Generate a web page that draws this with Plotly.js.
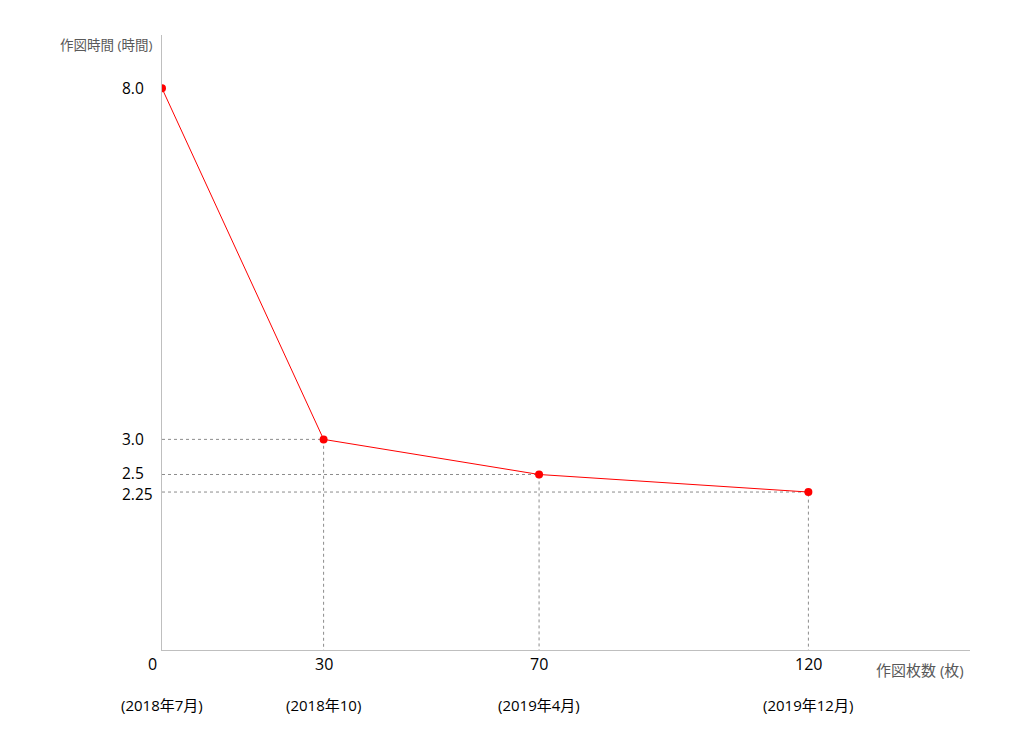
<!DOCTYPE html>
<html><head><meta charset="utf-8">
<script src="https://cdn.plot.ly/plotly-3.0.1.min.js"></script>
<style>html,body{margin:0;padding:0;background:#fff}#c{width:1024px;height:739px}</style>
</head><body><div id="c"></div>
<script>
const sheets = [0, 30, 70, 120];
const hours = [8.0, 3.0, 2.5, 2.25];
const xTickText = ["0", "30", "70", "120"];
const yTickText = ["8.0", "3.0", "2.5", "2.25"];
const dateLabels = ["(2018年7月)", "(2018年10)", "(2019年4月)", "(2019年12月)"];
const xTitle = "作図枚数 (枚)";
const yTitle = "作図時間 (時間)";

const FONT = "Open Sans, Noto Sans CJK JP, sans-serif";
const L = 162, R = 54, T = 35, B = 89, W = 1024, H = 739;
const plotW = W - L - R, plotH = H - T - B;

const traces = [];
for (let i = 1; i < sheets.length; i++) {
  traces.push({x: [0, sheets[i], sheets[i]], y: [hours[i], hours[i], 0], mode: 'lines',
    line: {color: '#8c8c8c', width: 1, dash: 'dot'}, hoverinfo: 'skip', showlegend: false});
}
traces.push({x: sheets, y: hours, mode: 'lines+markers',
  line: {color: '#ff0000', width: 1}, marker: {color: '#ff0000', size: 8}, showlegend: false});

const layout = {
  width: W, height: H,
  margin: {l: L, r: R, t: T, b: B},
  paper_bgcolor: '#fff', plot_bgcolor: '#fff',
  font: {family: FONT, size: 15, color: '#000'},
  xaxis: {range: [0, 150], showticklabels: false, showgrid: false, zeroline: false,
    showline: true, linecolor: '#bfbfbf', linewidth: 1, ticks: ''},
  yaxis: {range: [0, 8.76], showticklabels: false, showgrid: false, zeroline: false,
    showline: true, linecolor: '#bfbfbf', linewidth: 1, ticks: ''},
  annotations: []
};
// y tick labels (left aligned, as in reference); nudge the two close labels apart slightly
const yShift = [0, 0, 1.5, -1.5];
hours.forEach((v, i) => {
  layout.annotations.push({x: -(L - 121) / plotW, xref: 'paper', xanchor: 'left', y: v, yref: 'y', yanchor: 'middle',
    yshift: yShift[i], borderpad: 0,
    text: yTickText[i], showarrow: false, font: {family: FONT, size: 15.5, color: '#000'}});
});
// x tick labels
sheets.forEach((v, i) => {
  layout.annotations.push({x: v, xref: 'x', xshift: i === 0 ? -10 : 0, y: -(664 - 650) / plotH, yref: 'paper', yanchor: 'middle',
    text: xTickText[i], showarrow: false, font: {family: FONT, size: 16, color: '#000'}});
});
// date labels
dateLabels.forEach((t, i) => {
  layout.annotations.push({x: sheets[i], xref: 'x', y: -(705 - 650) / plotH, yref: 'paper', yanchor: 'middle',
    text: t, showarrow: false, font: {family: FONT, size: 15, color: '#000'}});
});
layout.annotations.push({x: 1 - (970 - 966) / plotW, xref: 'paper', xanchor: 'right', y: -(670 - 650) / plotH, yref: 'paper', yanchor: 'middle',
  text: xTitle, showarrow: false, font: {family: FONT, size: 15, color: '#595959'}});
layout.annotations.push({x: -(L - 154) / plotW, xref: 'paper', xanchor: 'right', y: 1 + (T - 45) / plotH, yref: 'paper', yanchor: 'middle',
  text: yTitle, showarrow: false, font: {family: FONT, size: 13.5, color: '#595959'}});
Plotly.newPlot('c', traces, layout, {displayModeBar: false, staticPlot: true});
</script></body></html>
